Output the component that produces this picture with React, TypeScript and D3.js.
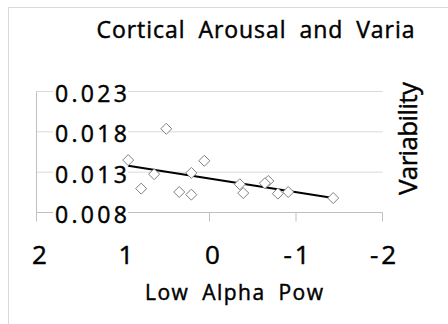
import React from 'react';
import * as d3 from 'd3';

const lowAlphaPow = [0.94, 0.5, 0.79, 0.64, 0.35, 0.21, 0.21, 0.06, -0.35, -0.39, -0.68, -0.64, -0.79, -0.91, -1.43];
const variability = [0.0145, 0.01838, 0.01096, 0.01275, 0.01054, 0.01021, 0.01291, 0.01441, 0.0115, 0.01041, 0.01191, 0.01163, 0.01034, 0.01054, 0.00979];
const xTicks = [2, 1, 0, -1, -2];
const xTickLabels = ['2', '1', '0', '-1', '-2'];
const yTicks = [0.008, 0.013, 0.018, 0.023];
const yTickLabels = ['0.008', '0.013', '0.018', '0.023'];
const chartTitle = 'Cortical Arousal and Varia';
const xTitle = 'Low Alpha Pow';
const yTitle = 'Variability';

const FONT = '"Open Sans", "Liberation Sans", Arial, sans-serif';

export default function App() {
  const W = 448;
  const H = 324;
  const x = d3.scaleLinear().domain([2, -2]).range([36.5, 382.5]);
  const y = d3.scaleLinear().domain([0.008, 0.023]).range([212.5, 91.5]);

  const pts = lowAlphaPow.map((v, i) => [v, variability[i]] as [number, number]);
  const mx = d3.mean(lowAlphaPow) as number;
  const my = d3.mean(variability) as number;
  const sxy = d3.sum(pts, (p) => (p[0] - mx) * (p[1] - my));
  const sxx = d3.sum(pts, (p) => (p[0] - mx) * (p[0] - mx));
  const slope = sxy / sxx;
  const icpt = my - slope * mx;
  const [xmin, xmax] = d3.extent(lowAlphaPow) as [number, number];
  const trend: [number, number][] = [
    [xmax, icpt + slope * xmax],
    [xmin, icpt + slope * xmin],
  ];
  const line = d3
    .line<[number, number]>()
    .x((d) => x(d[0]))
    .y((d) => y(d[1]));

  const r = 5.5;
  const diamond = `M0,${-r}L${r},0L0,${r}L${-r},0Z`;
  const bold = { stroke: '#000', strokeWidth: 0.45 };

  return (
    <svg
      width={W}
      height={H}
      style={{ position: 'absolute', left: 0, top: 0, background: '#fff' }}
      fontFamily={FONT}
    >
      <rect x={8.5} y={7.5} width={600} height={500} fill="#fff" stroke="#d9d9d9" />
      {yTicks.slice(1).map((t) => (
        <line key={t} x1={x(2)} x2={x(-2)} y1={y(t)} y2={y(t)} stroke="#d9d9d9" strokeWidth={1} />
      ))}
      <line x1={x(2)} x2={x(2)} y1={y(0.023)} y2={y(0.008)} stroke="#bfbfbf" />
      <line x1={x(2)} x2={x(-2)} y1={y(0.008)} y2={y(0.008)} stroke="#bfbfbf" />
      {xTicks.map((t) => (
        <line key={t} x1={x(t)} x2={x(t)} y1={y(0.008)} y2={y(0.008) + 9} stroke="#bfbfbf" />
      ))}
      {yTicks.map((t, i) => (
        <g key={t}>
          <rect x={53} y={y(t) - 12} width={75} height={24} fill="#fff" />
          <text
            x={55}
            y={y(t) + 10.5}
            fontSize={23}
            textLength={72}
            lengthAdjust="spacing"
            fill="#000"
            {...bold}
          >
            {yTickLabels[i]}
          </text>
        </g>
      ))}
      {xTicks.map((t, i) => (
        <text
          key={t}
          x={x(t) + (xTickLabels[i].length > 1 ? 2 : 3)}
          y={263.5}
          fontSize={26}
          textAnchor="middle"
          letterSpacing={xTickLabels[i].length > 1 ? 3 : 0}
          fill="#000"
          {...bold}
        >
          {xTickLabels[i]}
        </text>
      ))}
      <path d={line(trend) || ''} fill="none" stroke="#000" strokeWidth={2} />
      {pts.map((p, i) => (
        <path
          key={i}
          d={diamond}
          transform={`translate(${x(p[0])},${y(p[1])})`}
          fill="#fff"
          stroke="#808080"
          strokeWidth={1}
        />
      ))}
      <text
        x={96.5}
        y={37.5}
        fontSize={23}
        wordSpacing={6}
        textLength={318}
        lengthAdjust="spacing"
        fill="#000"
        {...bold}
      >
        {chartTitle}
      </text>
      <text
        x={145}
        y={299.5}
        fontSize={21}
        wordSpacing={6}
        textLength={178}
        lengthAdjust="spacing"
        fill="#000"
        {...bold}
      >
        {xTitle}
      </text>
      <text
        transform={`translate(417,195) rotate(-90)`}
        fontSize={26}
        textLength={113}
        lengthAdjust="spacing"
        fill="#000"
        {...bold}
      >
        {yTitle}
      </text>
    </svg>
  );
}
